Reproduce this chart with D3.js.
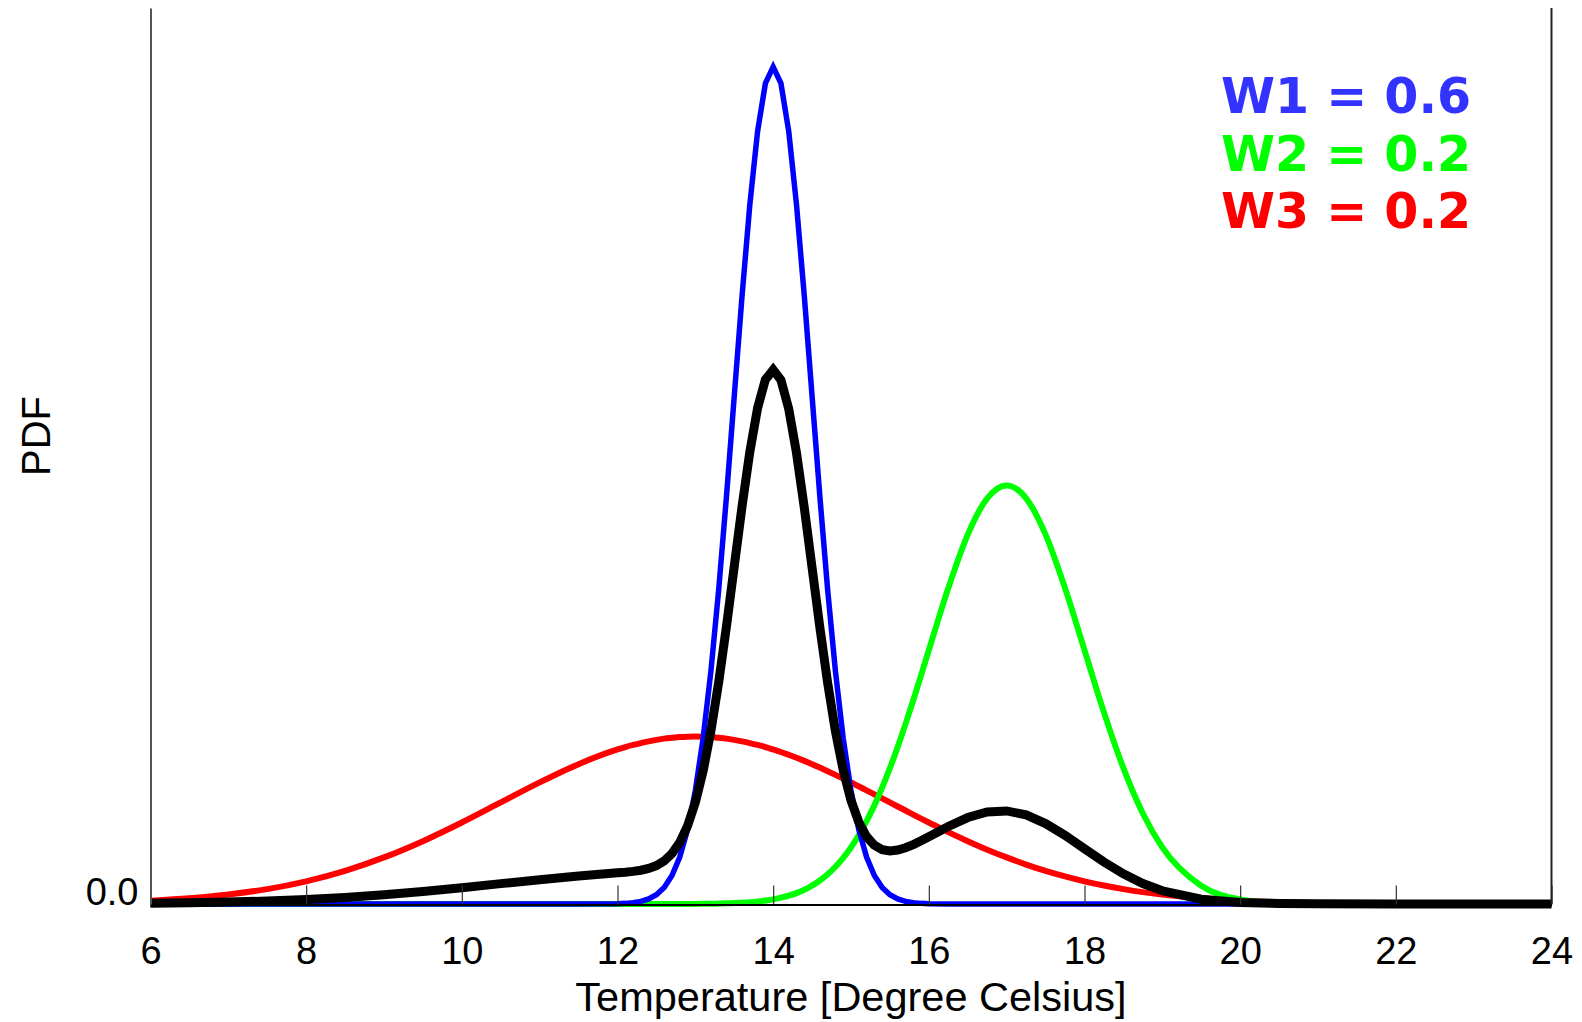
<!DOCTYPE html>
<html>
<head>
<meta charset="utf-8">
<script src="https://cdn.jsdelivr.net/npm/d3@7"></script>
<style>
	body { margin: 0; background: #fff; }
	.axis text { font-family: "Liberation Sans", Arial, sans-serif; fill: #000; }
</style>
</head>
<body>
<svg id="chart" width="1582" height="1022"></svg>
<script>
// temperature grid (degree celsius), finer around the peaks
var temps = [6, 6.5, 7, 7.5, 8, 8.5, 9, 9.5, 10, 10.5, 11, 11.5,
	12.0, 12.1, 12.2, 12.3, 12.4, 12.5, 12.6, 12.7, 12.8, 12.9,
	13.0, 13.1, 13.2, 13.3, 13.4, 13.5, 13.6, 13.7, 13.8, 13.9,
	14.0, 14.1, 14.2, 14.3, 14.4, 14.5, 14.6, 14.7, 14.8, 14.9,
	15.0, 15.1, 15.2, 15.3, 15.4, 15.5, 15.6, 15.7, 15.8, 15.9, 16.0,
	16.25, 16.5, 16.75, 17, 17.25, 17.5, 17.75, 18, 18.25, 18.5, 18.75, 19,
	19.5, 20, 20.5, 21, 22, 23, 24];

// component 1 (blue)
var pdfBlue = [0, 0, 0, 0, 0, 0, 0, 0, 0, 0, 0, 0,
	0.0003, 0.0006, 0.0012, 0.0025, 0.0048, 0.0089, 0.0158, 0.0272, 0.0448, 0.0709,
	0.1080, 0.1579, 0.2218, 0.2995, 0.3884, 0.4839, 0.5794, 0.6664, 0.7365, 0.7821,
	0.7979, 0.7821, 0.7365, 0.6664, 0.5794, 0.4839, 0.3884, 0.2995, 0.2218, 0.1579,
	0.1080, 0.0709, 0.0448, 0.0272, 0.0158, 0.0089, 0.0048, 0.0025, 0.0012, 0.0006, 0.0003,
	0, 0, 0, 0, 0, 0, 0, 0, 0, 0, 0, 0,
	0, 0, 0, 0, 0, 0, 0];

// component 2 (green)
var pdfGreen = [0, 0, 0, 0, 0, 0, 0, 0, 0, 0, 0, 0,
	0, 0, 0, 0, 0, 0, 0, 0, 0.0001, 0.0001,
	0.0001, 0.0002, 0.0003, 0.0004, 0.0006, 0.0009, 0.0012, 0.0017, 0.0024, 0.0033,
	0.0044, 0.0060, 0.0079, 0.0104, 0.0136, 0.0175, 0.0224, 0.0283, 0.0355, 0.0440,
	0.0540, 0.0656, 0.0790, 0.0940, 0.1109, 0.1295, 0.1497, 0.1714, 0.1942, 0.2179, 0.2420,
	0.3011, 0.3521, 0.3867, 0.3989, 0.3867, 0.3521, 0.3011, 0.2420, 0.1826, 0.1295, 0.0863, 0.0540,
	0.0175, 0.0044, 0.0009, 0.0001, 0, 0, 0];

// component 3 (red)
var pdfRed = [0.0032, 0.0054, 0.0090, 0.0142, 0.0216, 0.0316, 0.0444, 0.0599, 0.0777, 0.0968, 0.1159, 0.1333,
	0.1473, 0.1496, 0.1516, 0.1534, 0.1550, 0.1564, 0.1576, 0.1584, 0.1591, 0.1595,
	0.1596, 0.1595, 0.1591, 0.1584, 0.1576, 0.1564, 0.1550, 0.1534, 0.1516, 0.1496,
	0.1473, 0.1449, 0.1422, 0.1394, 0.1364, 0.1333, 0.1300, 0.1266, 0.1231, 0.1195,
	0.1159, 0.1121, 0.1083, 0.1045, 0.1007, 0.0968, 0.0929, 0.0891, 0.0852, 0.0814, 0.0777,
	0.0685, 0.0599, 0.0518, 0.0444, 0.0376, 0.0316, 0.0263, 0.0216, 0.0176, 0.0142, 0.0113, 0.0090,
	0.0054, 0.0032, 0.0018, 0.0010, 0.0002, 0.0001, 0];

// weighted mixture (black)
var pdfMix = [0.0006, 0.0011, 0.0018, 0.0028, 0.0043, 0.0063, 0.0089, 0.0120, 0.0155, 0.0194, 0.0232, 0.0267,
	0.0297, 0.0303, 0.0311, 0.0322, 0.0339, 0.0366, 0.0410, 0.0480, 0.0587, 0.0745,
	0.0967, 0.1267, 0.1650, 0.2114, 0.2647, 0.3218, 0.3789, 0.4309, 0.4727, 0.4998,
	0.5091, 0.4994, 0.4719, 0.4298, 0.3776, 0.3205, 0.2635, 0.2107, 0.1648, 0.1274,
	0.0988, 0.0781, 0.0643, 0.0560, 0.0518, 0.0506, 0.0514, 0.0536, 0.0566, 0.0602, 0.0641,
	0.0739, 0.0824, 0.0877, 0.0887, 0.0849, 0.0767, 0.0655, 0.0527, 0.0400, 0.0287, 0.0195, 0.0126,
	0.0046, 0.0015, 0.0005, 0.0002, 0, 0, 0];

var xTicks = [6, 8, 10, 12, 14, 16, 18, 20, 22, 24];
var yTicks = [0];
var weightNames = ["W1", "W2", "W3"];
var weightValues = [0.6, 0.2, 0.2];

var svg = d3.select("#chart");

// scales
var xScale = d3.scaleLinear()
	.domain([6, 24])
	.range([150.5, 1551.5]);
var yScale = d3.scaleLinear()
	.domain([0, 0.854])
	.range([904, 8]);

// series, drawn back to front
var series = [
	{ values: pdfRed, colour: "#ff0000", width: 6, curve: d3.curveMonotoneX },
	{ values: pdfGreen, colour: "#00ff00", width: 6, curve: d3.curveMonotoneX },
	{ values: pdfBlue, colour: "#0000ff", width: 5.5, curve: d3.curveLinear },
	{ values: pdfMix, colour: "#000000", width: 9, curve: d3.curveLinear }
];

series.forEach(function(s) {
	var line = d3.line()
		.x(function(d, i) { return xScale(temps[i]); })
		.y(function(d) { return yScale(d); })
		.curve(s.curve);
	svg.append("path")
		.datum(s.values)
		.attr("d", line)
		.style("fill", "none")
		.style("stroke", s.colour)
		.style("stroke-width", s.width)
		.style("stroke-linejoin", "miter");
});

// x axis, ticks pointing inwards
var xAxis = d3.axisBottom(xScale)
	.tickValues(xTicks)
	.tickSizeInner(-19)
	.tickSizeOuter(0)
	.tickPadding(33)
	.tickFormat(d3.format("d"));
var xAxisG = svg.append("g")
	.attr("class", "axis x")
	.attr("transform", "translate(0,904.5)")
	.call(xAxis);
xAxisG.select(".domain").style("stroke", "#000").style("stroke-width", 2);
xAxisG.selectAll(".tick line").style("stroke", "#333").style("stroke-width", 1.2);
xAxisG.selectAll(".tick text").style("font-size", "38px");

// y axis, only the zero label
var yAxis = d3.axisLeft(yScale)
	.tickValues(yTicks)
	.tickSize(0)
	.tickPadding(12)
	.tickFormat(d3.format(".1f"));
var yAxisG = svg.append("g")
	.attr("class", "axis y")
	.attr("transform", "translate(" + xScale(6) + ",0)")
	.call(yAxis);
yAxisG.select(".domain").style("stroke", "#555").style("stroke-width", 2);
yAxisG.selectAll(".tick text")
	.attr("dy", "0em")
	.style("font-size", "38px");

// right border
svg.append("line")
	.attr("x1", xScale(24))
	.attr("x2", xScale(24))
	.attr("y1", yScale(0.854))
	.attr("y2", yScale(0))
	.style("stroke", "#222")
	.style("stroke-width", 2);

// axis labels
svg.append("text")
	.attr("x", (xScale(6) + xScale(24)) / 2)
	.attr("y", 1011)
	.style("font-family", "'Liberation Sans', Arial, sans-serif")
	.style("font-size", "41.5px")
	.style("text-anchor", "middle")
	.text("Temperature [Degree Celsius]");
svg.append("text")
	.attr("transform", "translate(50,436) rotate(-90)")
	.style("font-family", "'Liberation Sans', Arial, sans-serif")
	.style("font-size", "40px")
	.style("text-anchor", "middle")
	.text("PDF");

// weights
var weightColours = ["#3333ff", "#00ff00", "#ff0000"];
svg.selectAll(".weight")
	.data(weightNames)
	.enter()
	.append("text")
	.attr("class", "weight")
	.attr("x", 1221)
	.attr("y", function(d, i) { return 113 + i * 57.5; })
	.style("font-family", "'DejaVu Sans', sans-serif")
	.style("font-weight", "bold")
	.style("font-size", "49px")
	.style("fill", function(d, i) { return weightColours[i]; })
	.text(function(d, i) { return d + " = " + weightValues[i].toFixed(1); });
</script>
</body>
</html>
